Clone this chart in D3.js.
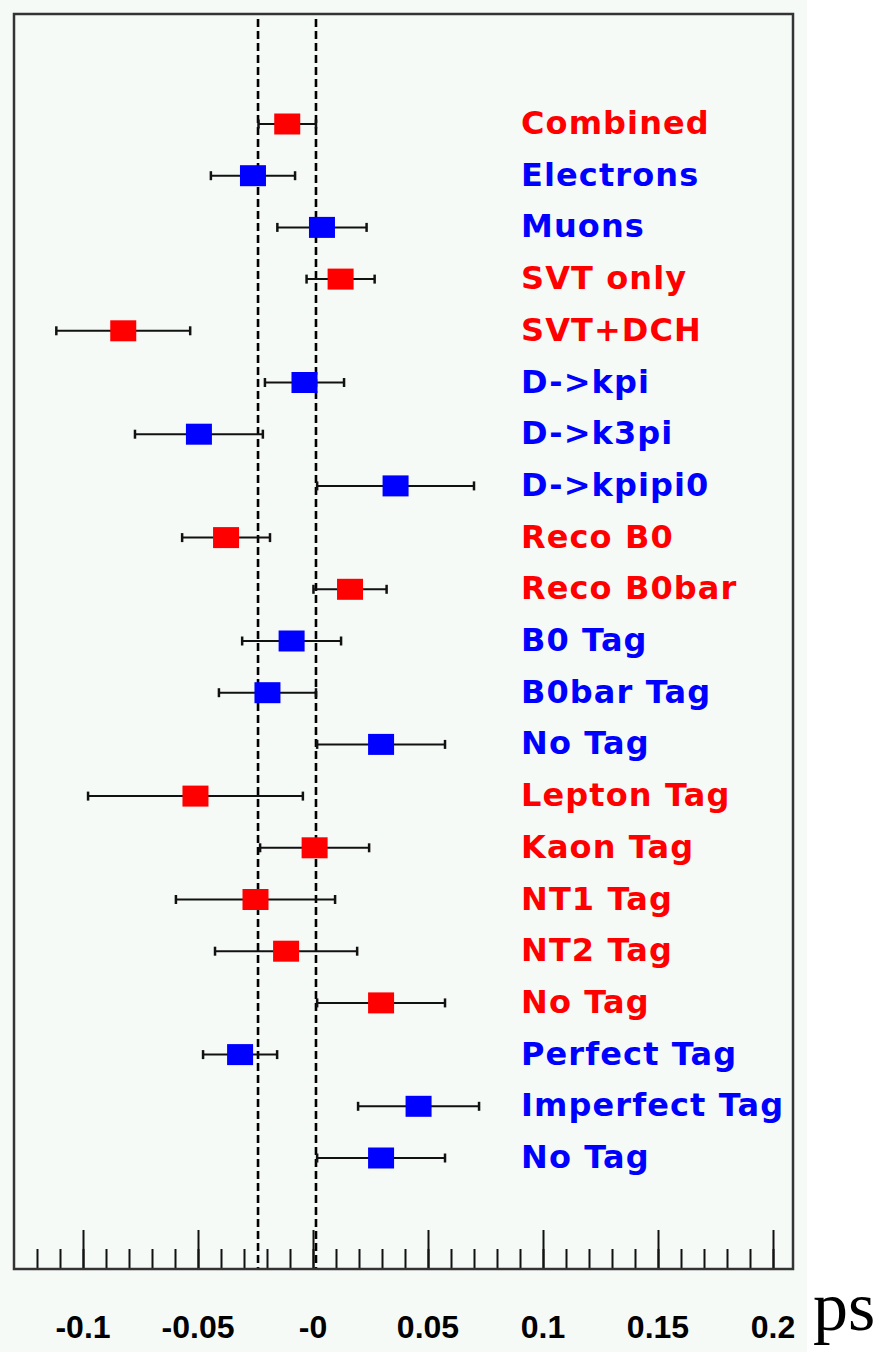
<!DOCTYPE html>
<html>
<head>
<meta charset="utf-8">
<script src="https://cdn.jsdelivr.net/npm/d3@7"></script>
<style>
  body { margin: 0; background: #ffffff; }
  svg { display: block; }
</style>
</head>
<body>
<div class="chart"></div>
<script>
// measurement per sample, in ps
const labels = ["Combined", "Electrons", "Muons", "SVT only", "SVT+DCH", "D->kpi", "D->k3pi",
  "D->kpipi0", "Reco B0", "Reco B0bar", "B0 Tag", "B0bar Tag", "No Tag", "Lepton Tag",
  "Kaon Tag", "NT1 Tag", "NT2 Tag", "No Tag", "Perfect Tag", "Imperfect Tag", "No Tag"];
const values = [-0.0112, -0.0261, 0.0039, 0.0120, -0.0825, -0.0037, -0.0496,
  0.0359, -0.0378, 0.0161, -0.0093, -0.0198, 0.0296, -0.0511,
  0.0007, -0.0250, -0.0117, 0.0296, -0.0317, 0.0459, 0.0296];
const errors = [0.0125, 0.0183, 0.0194, 0.0148, 0.0291, 0.0172, 0.0278,
  0.0341, 0.0191, 0.0159, 0.0215, 0.0211, 0.0278, 0.0467,
  0.0237, 0.0346, 0.0309, 0.0278, 0.0161, 0.0263, 0.0278];
const groups = ["r", "b", "b", "r", "r", "b", "b", "b", "r", "r", "b", "b", "b", "r",
  "r", "r", "r", "r", "b", "b", "b"];
const refLines = [-0.0239, 0.0013];
const majorTicks = [-0.1, -0.05, 0, 0.05, 0.1, 0.15, 0.2];
const tickLabels = ["-0.1", "-0.05", "-0", "0.05", "0.1", "0.15", "0.2"];
const minorTicks = d3.range(-12, 21).map(d => d / 100);

const W = 876, H = 1361;
const frame = {left: 14, right: 793, top: 14, bottom: 1269};
const colors = {r: "#ff0000", b: "#0000ff"};

const svg = d3.select(".chart").append("svg")
    .attr("width", W)
    .attr("height", H);

// pad background
svg.append("rect")
    .attr("width", 807).attr("height", 1352)
    .attr("fill", "#f6faf7");

const x = d3.scaleLinear().domain([-0.1, 0.2]).range([83, 773]);
const y = d3.scaleLinear().domain([0, labels.length - 1]).range([124, 1158]);

// dashed reference lines
svg.selectAll("line.ref")
    .data(refLines)
    .enter()
    .append("line")
    .attr("class", "ref")
    .attr("x1", d => x(d)).attr("x2", d => x(d))
    .attr("y1", frame.top + 5).attr("y2", frame.bottom)
    .attr("stroke", "#000")
    .attr("stroke-width", 2.6)
    .attr("stroke-dasharray", "8,4");

// ticks along bottom, pointing up
svg.append("g")
    .attr("transform", "translate(0," + frame.bottom + ")")
    .call(d3.axisBottom(x).tickValues(minorTicks).tickSize(-20).tickFormat(""))
    .call(g => g.select(".domain").remove())
    .call(g => g.selectAll("line").attr("stroke", "#111").attr("stroke-width", 2));
svg.append("g")
    .attr("transform", "translate(0," + frame.bottom + ")")
    .call(d3.axisBottom(x).tickValues(majorTicks).tickSize(-39).tickFormat(""))
    .call(g => g.select(".domain").remove())
    .call(g => g.selectAll("line").attr("stroke", "#111").attr("stroke-width", 2));

svg.selectAll("text.tick")
    .data(majorTicks)
    .enter()
    .append("text")
    .attr("class", "tick")
    .attr("x", d => x(d))
    .attr("y", 1338)
    .attr("text-anchor", "middle")
    .attr("font-family", "Liberation Sans, Arial, sans-serif")
    .attr("font-weight", "bold")
    .attr("font-size", 32)
    .attr("fill", "#000")
    .text((d, i) => tickLabels[i]);

svg.append("text")
    .attr("x", 813)
    .attr("y", 1330)
    .attr("font-family", "Liberation Serif, Times New Roman, serif")
    .attr("font-size", 70)
    .attr("fill", "#000")
    .text("ps");

// points with error bars
const row = svg.selectAll("g.row")
    .data(values)
    .enter()
    .append("g")
    .attr("class", "row")
    .attr("transform", (d, i) => "translate(0," + y(i) + ")");

row.append("line")
    .attr("x1", (d, i) => x(d - errors[i]))
    .attr("x2", (d, i) => x(d + errors[i]))
    .attr("stroke", "#111").attr("stroke-width", 2);
row.append("line")
    .attr("x1", (d, i) => x(d - errors[i])).attr("x2", (d, i) => x(d - errors[i]))
    .attr("y1", -4.5).attr("y2", 4.5)
    .attr("stroke", "#111").attr("stroke-width", 2.5);
row.append("line")
    .attr("x1", (d, i) => x(d + errors[i])).attr("x2", (d, i) => x(d + errors[i]))
    .attr("y1", -4.5).attr("y2", 4.5)
    .attr("stroke", "#111").attr("stroke-width", 2.5);
row.append("rect")
    .attr("x", d => x(d) - 13)
    .attr("y", -10.5)
    .attr("width", 26)
    .attr("height", 21)
    .attr("fill", (d, i) => colors[groups[i]]);

row.append("text")
    .attr("x", 521)
    .attr("y", 10)
    .attr("font-family", "DejaVu Sans, sans-serif")
    .attr("font-weight", "bold")
    .attr("font-size", 32)
    .attr("letter-spacing", 1.1)
    .attr("fill", (d, i) => colors[groups[i]])
    .text((d, i) => labels[i]);

// frame
svg.append("rect")
    .attr("x", frame.left).attr("y", frame.top)
    .attr("width", frame.right - frame.left)
    .attr("height", frame.bottom - frame.top)
    .attr("fill", "none")
    .attr("stroke", "#333")
    .attr("stroke-width", 2.5);
</script>
</body>
</html>
